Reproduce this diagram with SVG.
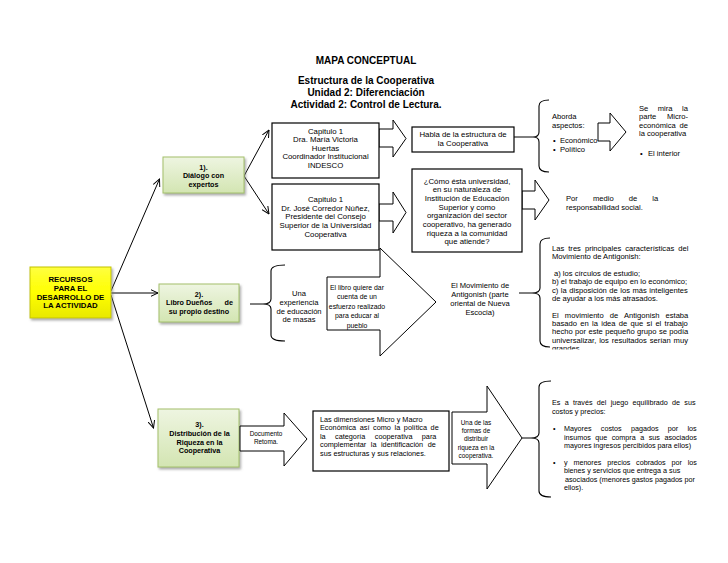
<svg xmlns="http://www.w3.org/2000/svg" width="728" height="563" viewBox="0 0 728 563">
<defs>
<style>
text{font-family:"Liberation Sans",Arial,Helvetica,sans-serif;fill:#000}
.b{font-weight:bold}
.c{text-anchor:middle}
.ti{font-size:10px;font-weight:bold;text-anchor:middle}
.f8{font-size:7.8px}
.f76{font-size:7.6px}
.f69{font-size:6.9px}
.f73{font-size:7.3px}
.f72{font-size:7.2px}
.f64{font-size:6.4px}
.gbox{fill:url(#gG);stroke:#a3c06a;stroke-width:1;filter:url(#sh)}
.ybox{fill:url(#gY);stroke:#c4c400;stroke-width:1;filter:url(#sh)}
.box{fill:#fff;stroke:#000;stroke-width:1.2}
.barrow{fill:#fff;stroke:#000;stroke-width:1}
.ln{fill:none;stroke:#000;stroke-width:1}
.br{fill:none;stroke:#000;stroke-width:1.1}
</style>
<linearGradient id="gG" x1="0" y1="0" x2="0" y2="1">
<stop offset="0" stop-color="#eef5e1"/>
<stop offset="1" stop-color="#d3e5b2"/>
</linearGradient>
<linearGradient id="gY" x1="0" y1="0" x2="0" y2="1">
<stop offset="0" stop-color="#ffff40"/>
<stop offset="0.5" stop-color="#ffff00"/>
<stop offset="1" stop-color="#e8e800"/>
</linearGradient>
<filter id="sh" x="-10%" y="-10%" width="130%" height="140%">
<feDropShadow dx="1.5" dy="2" stdDeviation="1.2" flood-color="#777" flood-opacity="0.6"/>
</filter>
<marker id="ah" viewBox="0 0 8 8" refX="7.5" refY="4" markerWidth="8" markerHeight="8" markerUnits="userSpaceOnUse" orient="auto">
<path d="M0,0.5 L7.5,4 L0,7.5" fill="none" stroke="#000" stroke-width="1"/>
</marker>
<clipPath id="clip2"><rect x="545" y="235" width="160" height="114.5"/></clipPath>
</defs>
<rect width="728" height="563" fill="#fff"/>

<g id="title">
<text class="ti" x="366" y="63.5">MAPA CONCEPTUAL</text>
<text class="ti" x="366" y="84">Estructura de la Cooperativa</text>
<text class="ti" x="366" y="96">Unidad 2: Diferenciación</text>
<text class="ti" x="366" y="108">Actividad 2: Control de Lectura.</text>
</g>

<g id="connectors">
<path class="ln" d="M111,291 L159.5,179" marker-end="url(#ah)"/>
<path class="ln" d="M111,293 L158,293" marker-end="url(#ah)"/>
<path class="ln" d="M111,295 L153.5,428" marker-end="url(#ah)"/>
<path class="ln" d="M244,176 L269,130" marker-end="url(#ah)"/>
<path class="ln" d="M244,176 L269,214" marker-end="url(#ah)"/>
<polygon class="barrow" points="379,129 393,129 393,120 406,138.5 393,157 393,147 379,147"/>
<polygon class="barrow" points="379,204 393,204 393,192 406,212.5 393,233 393,221 379,221"/>
<polygon class="barrow" points="522,191 535,191 535,180 549,200 535,220 535,209 522,209"/>
<polygon class="barrow" points="598,123 610,123 610,113 626,132 610,151 610,141 598,141"/>
<path class="ln" d="M514,137 L533,137"/>
<path class="br" d="M549,100 Q539,100 539,106 L539,132 Q539,137 533,137 Q539,137 539,142 L539,166 Q539,172 549,172"/>
<path class="ln" d="M250,304 L263,304"/>
<path class="br" d="M285,265 Q271,265 271,271 L271,299 Q271,304 263,304 Q271,304 271,309 L271,335 Q271,341 285,341"/>
<path class="ln" d="M519,293 L532,293"/>
<path class="br" d="M550,238 Q540,238 540,244 L540,288 Q540,293 532,293 Q540,293 540,298 L540,341 Q540,347 550,347"/>
<path class="ln" d="M522,438 L531,438"/>
<path class="br" d="M551,381 Q539,381 539,387 L539,433 Q539,438 531,438 Q539,438 539,443 L539,491 Q539,497 551,497"/>
</g>

<g id="recursos">
<rect class="ybox" x="30" y="267" width="81" height="51"/>
<text class="b c" style="font-size:7.8px" x="70.5" y="281.8">RECURSOS</text>
<text class="b c" style="font-size:7.8px" x="70.5" y="290.8">PARA EL</text>
<text class="b c" style="font-size:7.8px" x="70.5" y="299.8">DESARROLLO DE</text>
<text class="b c" style="font-size:7.8px" x="70.5" y="307.8">LA ACTIVIDAD</text>
</g>

<g id="dialogo">
<rect class="gbox" x="163" y="157" width="81" height="36"/>
<text class="b c f72" x="203.5" y="169.5">1).</text>
<text class="b c f72" x="203.5" y="178">Diálogo con</text>
<text class="b c f72" x="203.5" y="186.5">expertos</text>
</g>

<g id="libro">
<rect class="gbox" x="159" y="284" width="80" height="38"/>
<text class="b c f72" x="199" y="296.5">2).</text>
<text class="b f72" y="305"><tspan x="166">Libro Dueños</tspan><tspan x="224.5">de</tspan></text>
<text class="b c f72" x="199" y="313.5">su propio destino</text>
</g>

<g id="distribucion">
<rect class="gbox" x="158" y="409" width="81" height="58"/>
<text class="b c f72" x="199.5" y="426.5">3).</text>
<text class="b c f72" x="199.5" y="435.5">Distribución de la</text>
<text class="b c f72" x="199.5" y="444.5">Riqueza en la</text>
<text class="b c f72" x="199.5" y="453">Cooperativa</text>
</g>

<g id="capitulo1a">
<rect class="box" x="272" y="123" width="107" height="55"/>
<text class="c f8" x="325.5" y="133.5">Capitulo 1</text>
<text class="c f8" x="325.5" y="142">Dra. María Victoria</text>
<text class="c f8" x="325.5" y="150.5">Huertas</text>
<text class="c f8" x="325.5" y="159">Coordinador Institucional</text>
<text class="c f8" x="325.5" y="167.5">INDESCO</text>
</g>

<g id="capitulo1b">
<rect class="box" x="272" y="184" width="107" height="66"/>
<text class="c f8" x="325.5" y="202">Capitulo 1</text>
<text class="c f8" x="325.5" y="210.7">Dr. José Corredor Núñez,</text>
<text class="c f8" x="325.5" y="219.4">Presidente del Consejo</text>
<text class="c f8" x="325.5" y="228">Superior de la Universidad</text>
<text class="c f8" x="325.5" y="236.7">Cooperativa</text>
</g>

<g id="habla">
<rect class="box" x="412" y="127" width="102" height="25"/>
<text class="c f8" x="463" y="137">Habla de la estructura de</text>
<text class="c f8" x="463" y="145.5">la Cooperativa</text>
</g>

<g id="como">
<rect class="box" x="412" y="169" width="110" height="83"/>
<text class="c f8" x="467" y="183.5">¿Cómo ésta universidad,</text>
<text class="c f8" x="467" y="192.2">en su naturaleza de</text>
<text class="c f8" x="467" y="200.9">Institución de Educación</text>
<text class="c f8" x="467" y="209.6">Superior y como</text>
<text class="c f8" x="467" y="218.3">organización del   sector</text>
<text class="c f8" x="467" y="227">cooperativo, ha generado</text>
<text class="c f8" x="467" y="235.7">riqueza a la comunidad</text>
<text class="c f8" x="467" y="244.4">que atiende?</text>
</g>

<g id="aborda">
<text class="f76" x="552" y="119">Aborda</text>
<text class="f76" x="552" y="127.5">aspectos:</text>
<text class="f76" x="553" y="143">•</text><text class="f76" x="560" y="143">Económico</text>
<text class="f76" x="553" y="151.5">•</text><text class="f76" x="560" y="151.5">Político</text>
</g>

<g id="micro">
<text class="f76" x="639" y="110.5" style="word-spacing:7.4px">Se mira la</text>
<text class="f76" x="639" y="119" style="word-spacing:8.5px">parte Micro-</text>
<text class="f76" x="639" y="127.5" style="word-spacing:1.7px">económica de</text>
<text class="f76" x="639" y="136">la cooperativa</text>
<text class="f76" x="640" y="155.5">•</text><text class="f76" x="648" y="155.5">El interior</text>
</g>

<g id="responsabilidad">
<text class="f76" x="566" y="200.5" style="word-spacing:13px">Por medio de la</text>
<text class="f76" x="566" y="209.5">responsabilidad social.</text>
</g>

<g id="una-experiencia">
<text class="c f76" x="299" y="296">Una</text>
<text class="c f76" x="299" y="305">experiencia</text>
<text class="c f76" x="299" y="313.5">de educación</text>
<text class="c f76" x="299" y="322">de masas</text>
</g>

<g id="libro-arrow">
<polygon class="barrow" points="327,277 380,277 380,248 436,302 380,356 380,330 327,330"/>
<text class="c f69" x="357" y="290">El libro quiere dar</text>
<text class="c f69" x="357" y="299">cuenta de un</text>
<text class="c f69" x="357" y="308.5">esfuerzo realizado</text>
<text class="c f69" x="357" y="318">para educar al</text>
<text class="c f69" x="357" y="327.5">pueblo</text>
</g>

<g id="antigonish">
<text class="c f76" x="480" y="288">El Movimiento de</text>
<text class="c f76" x="480" y="297">Antigonish (parte</text>
<text class="c f76" x="480" y="305.5">oriental de Nueva</text>
<text class="c f76" x="480" y="314.5">Escocia)</text>
</g>

<g id="caracteristicas" clip-path="url(#clip2)">
<text class="f76" x="552" y="251" style="word-spacing:1.9px">Las tres principales características del</text>
<text class="f76" x="552" y="259.4">Movimiento de Antigonish:</text>
<text class="f76" x="554" y="276">a) los círculos de estudio;</text>
<text class="f76" x="552" y="284.4">b) el trabajo de equipo en lo económico;</text>
<text class="f76" x="552" y="292.7" style="word-spacing:0.4px">c) la disposición de los más inteligentes</text>
<text class="f76" x="552" y="301">de ayudar a los más atrasados.</text>
<text class="f76" x="552" y="317.7" style="word-spacing:4px">El movimiento de Antigonish estaba</text>
<text class="f76" x="552" y="326" style="word-spacing:1.2px">basado en la idea de que si el trabajo</text>
<text class="f76" x="552" y="334.4" style="word-spacing:0.27px">hecho por este pequeño grupo se podía</text>
<text class="f76" x="552" y="342.7" style="word-spacing:0.75px">universalizar, los resultados serían muy</text>
<text class="f76" x="552" y="351">grandes.</text>
</g>

<g id="documento">
<polygon class="barrow" points="240,426 284,426 284,413 307,439 284,466 284,451 240,451"/>
<text class="c" style="font-size:6.4px" x="266" y="436">Documento</text>
<text class="c" style="font-size:6.4px" x="266" y="444">Retoma.</text>
</g>

<g id="dimensiones">
<rect class="box" x="313" y="411" width="136" height="60"/>
<text class="f73" x="320" y="421.5">Las dimensiones Micro y Macro</text>
<text class="f73" x="320" y="430" style="word-spacing:1.6px">Económica así como la política de</text>
<text class="f73" x="320" y="438.5" style="word-spacing:7.3px">la categoría cooperativa para</text>
<text class="f73" x="320" y="447" style="word-spacing:2.5px">complementar la identificación de</text>
<text class="f73" x="320" y="455.5">sus estructuras y sus relaciones.</text>
</g>

<g id="formas">
<polygon class="barrow" points="452,412 487,412 487,386 522,438 487,489 487,464 452,464"/>
<text class="c f64" x="476" y="425">Una de las</text>
<text class="c f64" x="476" y="433">formas de</text>
<text class="c f64" x="476" y="441.3">distribuir</text>
<text class="c f64" x="476" y="449.5">riqueza en la</text>
<text class="c f64" x="476" y="457.8">cooperativa.</text>
</g>

<g id="costos">
<text class="f72" x="552" y="405.2" style="word-spacing:2.3px">Es a través del juego equilibrado de sus</text>
<text class="f72" x="552" y="413.7">costos y precios:</text>
<text class="f72" x="553" y="431.2">•</text>
<text class="f72" x="564" y="431.2" style="word-spacing:7.3px">Mayores costos pagados por los</text>
<text class="f72" x="564" y="439.7" style="word-spacing:2.5px">insumos que compra a sus asociados</text>
<text class="f72" x="564" y="448.2">mayores ingresos percibidos para ellos)</text>
<text class="f72" x="553" y="464.7">•</text>
<text class="f72" x="564" y="464.7" style="word-spacing:3.8px">y menores precios cobrados por los</text>
<text class="f72" x="564" y="473.2">bienes y servicios que entrega a sus</text>
<text class="f72" x="565" y="481.7">asociados (menores gastos pagados por</text>
<text class="f72" x="564" y="490.2">ellos).</text>
</g>
</svg>
